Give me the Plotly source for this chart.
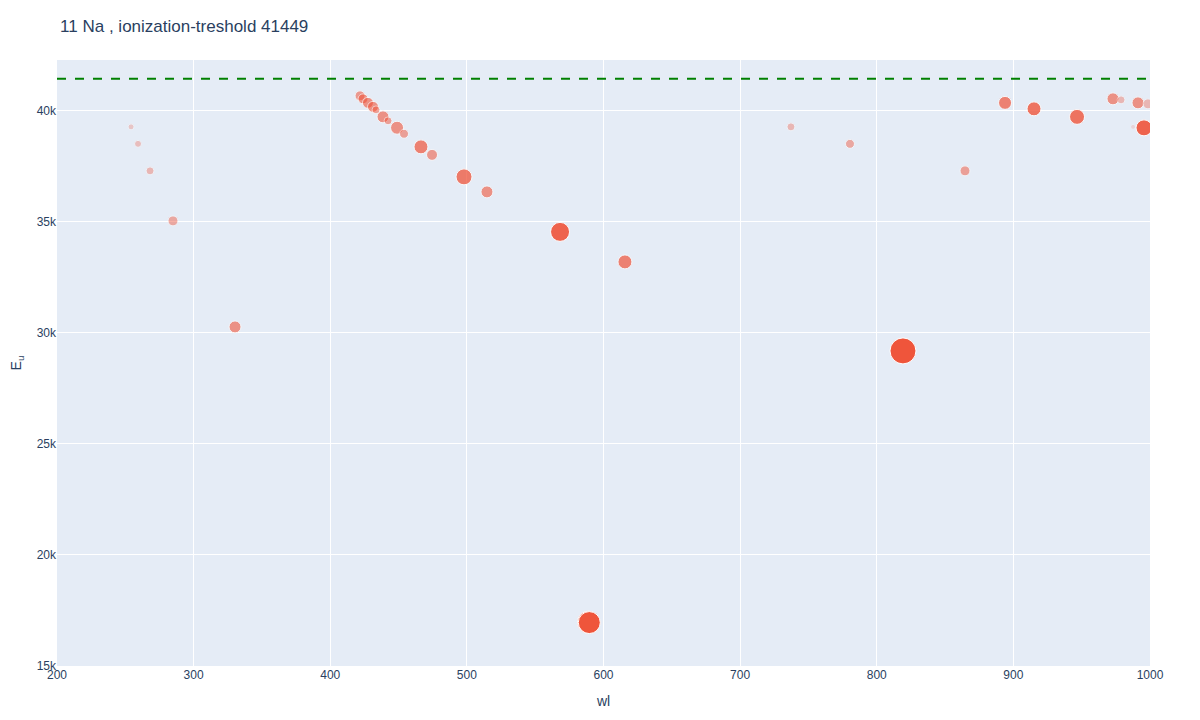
import plotly.graph_objects as go

# wavelengths (nm)
wl = [254.2, 259.3, 268.1, 284.9, 330.3,
      421.8, 424.0, 427.6, 431.3, 433.5, 438.6, 442.3, 448.9, 454.0,
      466.4, 474.5, 497.9, 514.7, 568.2, 589.0, 589.6, 615.7,
      737.2, 780.4, 819.2, 864.6, 893.9, 915.1, 946.6,
      972.9, 978.8, 987.6, 991.2, 995.6, 998.5]
# upper level energies (cm-1)
eu = [39279, 38514, 37297, 35045, 30270,
      40676, 40541, 40360, 40180, 40045, 39730, 39550, 39239, 38968,
      38378, 38018, 37027, 36351, 34550, 16973, 16956, 33198,
      39279, 38514, 29189, 37297, 40360, 40090, 39730,
      40541, 40495, 39279, 40360, 39234, 40315]
# relative line strength -> marker size
strength = [6, 7, 8, 10, 12,
            10, 10, 11, 11, 8, 12, 8, 13, 9,
            14, 11, 16, 12, 19, 22, 22, 14,
            8, 9, 26, 10, 13, 14, 15,
            12, 8, 5, 12, 16, 10]
alpha = [0.25, 0.3, 0.35, 0.45, 0.6,
         0.55, 0.6, 0.6, 0.6, 0.5, 0.6, 0.5, 0.6, 0.5,
         0.7, 0.55, 0.75, 0.6, 0.9, 1.0, 1.0, 0.7,
         0.35, 0.45, 1.0, 0.5, 0.7, 0.8, 0.8,
         0.6, 0.35, 0.15, 0.6, 0.9, 0.35]

ion_threshold = 41449

fig = go.Figure()
fig.add_trace(go.Scatter(
    x=wl, y=eu, mode="markers",
    marker=dict(size=strength, sizemode="diameter", color="#EF553B",
                opacity=alpha, line=dict(width=1, color="white")),
    showlegend=False,
))
fig.add_hline(y=ion_threshold, line_dash="dash", line_color="green", line_width=2)

fig.update_layout(
    template="plotly",
    font=dict(family="Liberation Sans, Arial, sans-serif"),
    title=dict(text="11 Na , ionization-treshold 41449", x=0.044, xanchor="left",
               y=0.975, yanchor="middle", yref="container"),
    margin=dict(l=49, r=42, t=52, b=46),
    xaxis=dict(title=dict(text="wl"), range=[200, 1000], dtick=100, automargin=False),
    yaxis=dict(title=dict(text="E<sub>u</sub>"), range=[15000, 42290], dtick=5000, automargin=False),
)

fig.write_html("out.html")
